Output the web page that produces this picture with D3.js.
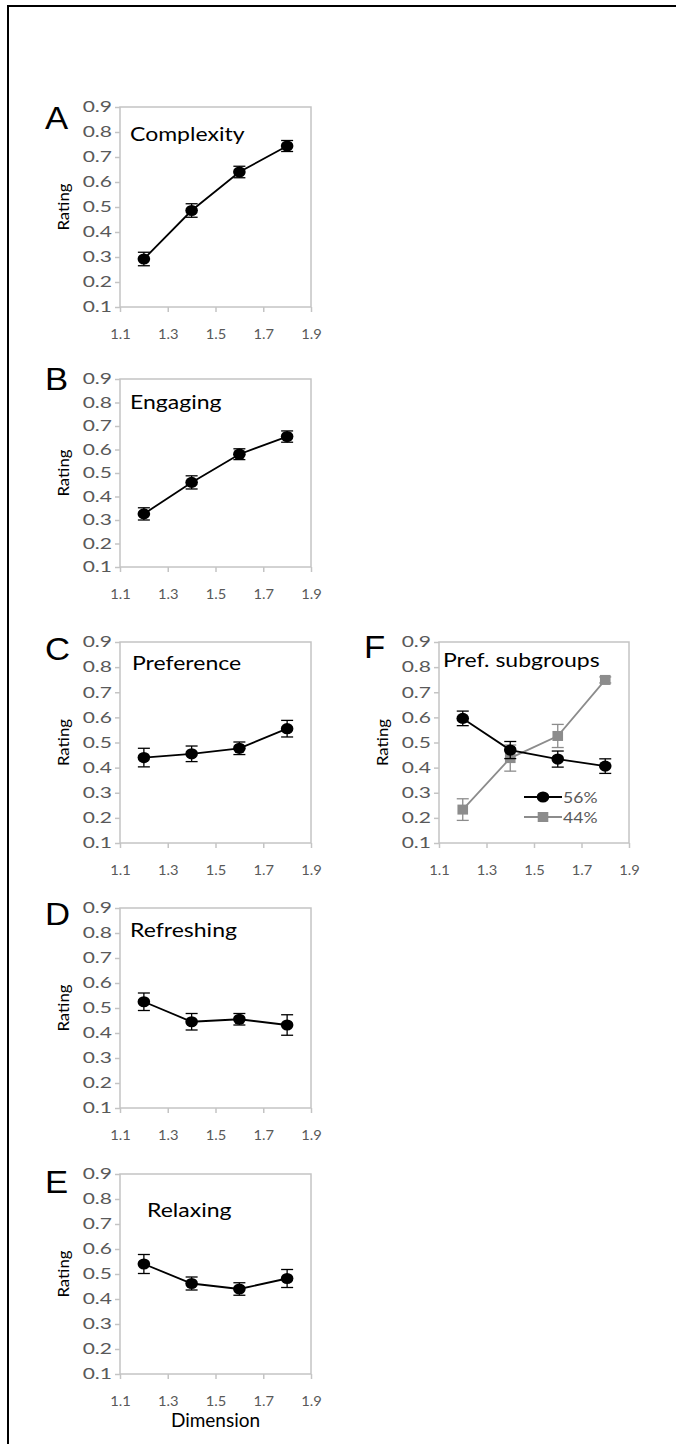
<!DOCTYPE html>
<html>
<head>
<meta charset="utf-8">
<script src="https://cdn.jsdelivr.net/npm/d3@7"></script>
<style>
  body { margin: 0; background: #fff; }
  svg text { font-family: Lato, "Open Sans", sans-serif; }
</style>
</head>
<body>
<svg id="fig" width="676" height="1444"></svg>
<script>
// x positions and ticks shared by all panels
const dimension = [1.2, 1.4, 1.6, 1.8];
const xTicks = [1.1, 1.3, 1.5, 1.7, 1.9];
const yTicks = [0.1, 0.2, 0.3, 0.4, 0.5, 0.6, 0.7, 0.8, 0.9];

// ratings (mean) and error bars
const complexity = [0.292, 0.486, 0.640, 0.744];
const complexityErr = [0.027, 0.027, 0.023, 0.022];
const engaging = [0.326, 0.460, 0.580, 0.655];
const engagingErr = [0.026, 0.028, 0.023, 0.024];
const preference = [0.440, 0.455, 0.477, 0.555];
const preferenceErr = [0.037, 0.031, 0.025, 0.033];
const refreshing = [0.525, 0.445, 0.455, 0.432];
const refreshingErr = [0.035, 0.033, 0.023, 0.041];
const relaxing = [0.540, 0.462, 0.440, 0.482];
const relaxingErr = [0.038, 0.026, 0.025, 0.036];
const sub56 = [0.596, 0.470, 0.434, 0.406];
const sub56Err = [0.029, 0.034, 0.032, 0.029];
const sub44 = [0.233, 0.438, 0.526, 0.749];
const sub44Err = [0.043, 0.052, 0.046, 0.012];
const legendLabels = ["56%", "44%"];

const black = "#000";
const grey = "#8c8c8c";

// panel layout (plot box in px)
const panels = [
  { letter: "A", title: "Complexity", x: 120, y: 107, w: 191, h: 200, lDy: 22, tx: 130, tDy: 34,
    series: [{ v: complexity, e: complexityErr, c: black, shape: "circle" }] },
  { letter: "B", title: "Engaging", x: 120, y: 379, w: 191, h: 188, lDy: 11, tx: 130, tDy: 30,
    series: [{ v: engaging, e: engagingErr, c: black, shape: "circle" }] },
  { letter: "C", title: "Preference", x: 120, y: 642, w: 191, h: 201, lDy: 18, tx: 132, tDy: 28,
    series: [{ v: preference, e: preferenceErr, c: black, shape: "circle" }] },
  { letter: "D", title: "Refreshing", x: 120, y: 908, w: 191, h: 200, lDy: 17, tx: 130, tDy: 29,
    series: [{ v: refreshing, e: refreshingErr, c: black, shape: "circle" }] },
  { letter: "E", title: "Relaxing", x: 120, y: 1174, w: 191, h: 200, lDy: 19, tx: 147, tDy: 43, xlabel: "Dimension",
    series: [{ v: relaxing, e: relaxingErr, c: black, shape: "circle" }] },
  { letter: "F", title: "Pref. subgroups", x: 439, y: 642, w: 190, h: 201, lDy: 16, tx: 443, tDy: 25, legend: true,
    series: [{ v: sub44, e: sub44Err, c: grey, shape: "square" },
             { v: sub56, e: sub56Err, c: black, shape: "circle" }] }
];

const svg = d3.select("#fig");

// the source figure is a little wider than tall: stretch text to match
function stretch(sel, k) {
  sel.each(function () {
    const len = this.getComputedTextLength();
    d3.select(this).attr("textLength", len * k).attr("lengthAdjust", "spacingAndGlyphs");
  });
}

// outer frame: left and top edges only
svg.append("path")
  .attr("d", "M8,1444 V6 H676")
  .attr("fill", "none")
  .attr("stroke", "#000")
  .attr("stroke-width", 2);

function marker(g, shape, color) {
  if (shape === "circle") {
    g.append("ellipse").attr("rx", 6.3).attr("ry", 5.6).attr("fill", color);
  } else {
    g.append("rect").attr("x", -5.3).attr("y", -5).attr("width", 10.6).attr("height", 10).attr("fill", color);
  }
}

panels.forEach(p => {
  const x = d3.scaleLinear().domain([1.1, 1.9]).range([p.x, p.x + p.w]);
  const y = d3.scaleLinear().domain([0.1, 0.9]).range([p.y + p.h, p.y]);
  const g = svg.append("g");

  // plot box
  g.append("rect")
    .attr("x", p.x).attr("y", p.y).attr("width", p.w).attr("height", p.h)
    .attr("fill", "none").attr("stroke", "#c4c4c4").attr("stroke-width", 1.5);

  const yAxis = g.append("g")
    .attr("transform", `translate(${p.x},0)`)
    .call(d3.axisLeft(y).tickValues(yTicks).tickFormat(d3.format(".1f")).tickSize(5).tickPadding(3));
  const xAxis = g.append("g")
    .attr("transform", `translate(0,${p.y + p.h})`)
    .call(d3.axisBottom(x).tickValues(xTicks).tickFormat(d3.format(".1f")).tickSize(5).tickPadding(17));
  [yAxis, xAxis].forEach(a => {
    a.select(".domain").remove();
    a.selectAll("line").attr("stroke", "#c4c4c4").attr("stroke-width", 1.5);
    a.selectAll("text").attr("fill", "#595959").style("font-family", "Lato, sans-serif");
  });
  yAxis.selectAll("text").style("font-size", "15px");
  xAxis.selectAll("text").style("font-size", "14px");
  stretch(yAxis.selectAll("text"), 1.4);
  stretch(xAxis.selectAll("text"), 1.05);

  // panel letter and title
  const letter = g.append("text")
    .attr("x", p.x - 75).attr("y", p.y + p.lDy)
    .style("font-family", "'Liberation Sans', Arial, sans-serif")
    .style("font-size", "31px")
    .text(p.letter);
  stretch(letter, 1.12);
  const title = g.append("text")
    .attr("x", p.tx).attr("y", p.y + p.tDy)
    .style("font-size", "19.5px")
    .text(p.title);
  stretch(title, 1.18);

  // y label
  const ylab = g.append("text")
    .attr("transform", `translate(${p.x - 51},${p.y + p.h / 2}) rotate(-90)`)
    .attr("text-anchor", "middle")
    .style("font-size", "16px")
    .text("Rating");
  stretch(ylab, 1.05);

  if (p.xlabel) {
    g.append("text")
      .attr("x", p.x + p.w / 2).attr("y", p.y + p.h + 53)
      .attr("text-anchor", "middle")
      .style("font-size", "19px")
      .text(p.xlabel);
  }

  p.series.forEach(s => {
    const pts = dimension.map((d, i) => ({ x: d, v: s.v[i], e: s.e[i] }));
    g.append("path")
      .datum(pts)
      .attr("fill", "none")
      .attr("stroke", s.c)
      .attr("stroke-width", 1.8)
      .attr("d", d3.line().x(d => x(d.x)).y(d => y(d.v)));

    const eb = g.selectAll(null).data(pts).enter().append("g")
      .attr("stroke", s.c).attr("stroke-width", 1.3);
    eb.append("line")
      .attr("x1", d => x(d.x)).attr("x2", d => x(d.x))
      .attr("y1", d => y(d.v - d.e)).attr("y2", d => y(d.v + d.e));
    [-1, 1].forEach(sign => {
      eb.append("line")
        .attr("x1", d => x(d.x) - 6).attr("x2", d => x(d.x) + 6)
        .attr("y1", d => y(d.v + sign * d.e)).attr("y2", d => y(d.v + sign * d.e));
    });

    g.selectAll(null).data(pts).enter().append("g")
      .attr("transform", d => `translate(${x(d.x)},${y(d.v)})`)
      .each(function () { marker(d3.select(this), s.shape, s.c); });
  });

  if (p.legend) {
    const legend = [{ c: black, shape: "circle" }, { c: grey, shape: "square" }];
    legend.forEach((l, i) => {
      const ly = p.y + 155 + i * 20;
      const lg = g.append("g");
      lg.append("line").attr("x1", p.x + 85).attr("x2", p.x + 123)
        .attr("y1", ly).attr("y2", ly).attr("stroke", l.c).attr("stroke-width", 1.8);
      const m = lg.append("g").attr("transform", `translate(${p.x + 104},${ly})`);
      marker(m, l.shape, l.c);
      const t = lg.append("text").attr("x", p.x + 124).attr("y", ly + 6)
        .attr("fill", "#595959").style("font-size", "16px")
        .text(legendLabels[i]);
      stretch(t, 1.1);
    });
  }
});
</script>
</body>
</html>
